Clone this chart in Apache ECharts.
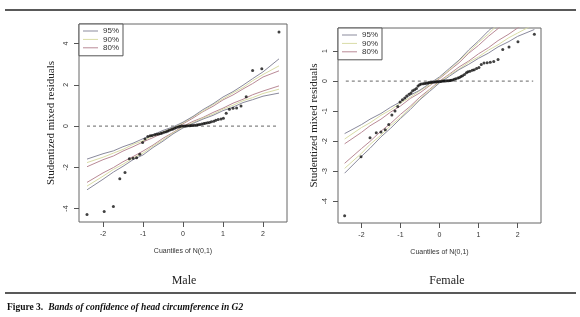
<!DOCTYPE html>
<html>
<head>
<meta charset="utf-8">
<script src="https://cdn.jsdelivr.net/npm/echarts@6/dist/echarts.min.js"></script>
<style>
  html, body { margin: 0; padding: 0; background: #fff; }
  #chart { width: 580px; height: 317px; }
</style>
</head>
<body>
<div id="chart"></div>
<script>
    // quantiles of N(0,1) and studentized residuals
    var maleQ = [-2.40, -1.97, -1.74, -1.58, -1.45, -1.34, -1.25, -1.16, -1.08, -1.01, -0.95, -0.88, -0.82, -0.77, -0.71,
        -0.66, -0.61, -0.56, -0.52, -0.47, -0.42, -0.38, -0.34, -0.29, -0.25, -0.21, -0.17, -0.12, -0.08, -0.04, 0,
        0.04, 0.08, 0.12, 0.17, 0.21, 0.25, 0.29, 0.34, 0.38, 0.42, 0.47, 0.52, 0.56, 0.61, 0.66,
        0.71, 0.77, 0.82, 0.88, 0.95, 1.01, 1.08, 1.16, 1.25, 1.34, 1.45, 1.58, 1.74, 1.97, 2.40];
    var maleRes = [-4.29, -4.14, -3.90, -2.55, -2.25, -1.58, -1.56, -1.54, -1.36, -0.80, -0.62, -0.50, -0.47, -0.45, -0.42,
        -0.40, -0.38, -0.36, -0.33, -0.30, -0.27, -0.24, -0.20, -0.17, -0.14, -0.10, -0.07, -0.04, -0.02, 0.00, 0.01,
        0.01, 0.01, 0.02, 0.02, 0.03, 0.03, 0.04, 0.05, 0.07, 0.08, 0.10, 0.12, 0.14, 0.16, 0.18,
        0.21, 0.24, 0.28, 0.32, 0.35, 0.38, 0.62, 0.82, 0.86, 0.88, 0.97, 1.42, 2.70, 2.78, 4.56];

    var femaleQ = [-2.43, -2.01, -1.78, -1.62, -1.50, -1.39, -1.30, -1.22, -1.14, -1.07, -1.01, -0.95, -0.89, -0.84, -0.78,
        -0.73, -0.69, -0.64, -0.59, -0.55, -0.51, -0.47, -0.42, -0.38, -0.34, -0.30, -0.27, -0.23, -0.19, -0.15, -0.11,
        -0.08, -0.04, 0, 0.04, 0.08, 0.11, 0.15, 0.19, 0.23, 0.27, 0.30, 0.34, 0.38, 0.42, 0.47, 0.51, 0.55, 0.59, 0.64,
        0.69, 0.73, 0.78, 0.84, 0.89, 0.95, 1.01, 1.07, 1.14, 1.22, 1.30, 1.39, 1.50, 1.62, 1.78, 2.01, 2.43];
    var femaleRes = [-4.49, -2.52, -1.89, -1.72, -1.70, -1.62, -1.45, -1.13, -1.00, -0.85, -0.70, -0.62, -0.56, -0.50, -0.44,
        -0.40, -0.32, -0.29, -0.25, -0.16, -0.12, -0.10, -0.09, -0.08, -0.07, -0.06, -0.05, -0.05, -0.04, -0.03, -0.03,
        -0.02, -0.02, -0.01, -0.01, 0.00, 0.00, 0.00, 0.01, 0.01, 0.02, 0.03, 0.04, 0.06, 0.08, 0.10, 0.12, 0.15, 0.18, 0.22,
        0.28, 0.31, 0.33, 0.36, 0.38, 0.42, 0.45, 0.55, 0.60, 0.61, 0.63, 0.65, 0.72, 1.05, 1.14, 1.31, 1.56];

    // confidence bands (upper / lower) at a set of quantiles
    var maleBandQ = [-2.4, -2.0, -1.74, -1.5, -1.25, -1.0, -0.75, -0.5, -0.25, 0, 0.25, 0.5, 0.75, 1.0, 1.25, 1.5, 1.74, 2.0, 2.4];
    var maleUp95 = [-1.60, -1.34, -1.20, -1.00, -0.83, -0.61, -0.42, -0.21, -0.04, 0.19, 0.47, 0.80, 1.08, 1.41, 1.67, 1.98, 2.30, 2.63, 3.26];
    var maleLo95 = [-3.09, -2.58, -2.23, -1.95, -1.63, -1.40, -1.04, -0.73, -0.38, -0.09, 0.13, 0.34, 0.52, 0.75, 0.92, 1.14, 1.28, 1.45, 1.60];
    var maleUp90 = [-1.77, -1.51, -1.31, -1.13, -0.89, -0.71, -0.47, -0.29, -0.07, 0.15, 0.45, 0.73, 1.04, 1.32, 1.61, 1.87, 2.20, 2.50, 2.92];
    var maleLo90 = [-2.91, -2.43, -2.10, -1.85, -1.55, -1.31, -0.97, -0.67, -0.33, -0.05, 0.17, 0.39, 0.58, 0.82, 1.01, 1.23, 1.38, 1.58, 1.79];
    var maleUp80 = [-1.97, -1.63, -1.45, -1.21, -1.00, -0.77, -0.56, -0.33, -0.13, 0.11, 0.39, 0.70, 0.96, 1.27, 1.51, 1.80, 2.06, 2.38, 2.68];
    var maleLo80 = [-2.73, -2.27, -2.01, -1.73, -1.48, -1.21, -0.92, -0.59, -0.31, -0.01, 0.23, 0.42, 0.66, 0.87, 1.11, 1.30, 1.52, 1.70, 1.95];

    var femaleBandQ = [-2.43, -2.0, -1.78, -1.5, -1.25, -1.0, -0.75, -0.5, -0.25, 0, 0.25, 0.5, 0.75, 1.0, 1.25, 1.5, 1.78, 2.0, 2.43];
    var femaleUp95 = [-1.75, -1.45, -1.27, -1.08, -0.87, -0.69, -0.47, -0.30, -0.08, 0.14, 0.42, 0.70, 1.04, 1.34, 1.67, 1.96, 2.34, 2.61, 3.20];
    var femaleLo95 = [-3.07, -2.51, -2.24, -1.86, -1.57, -1.25, -0.95, -0.62, -0.34, -0.06, 0.16, 0.38, 0.56, 0.76, 0.93, 1.14, 1.32, 1.49, 1.72];
    var femaleUp90 = [-1.93, -1.55, -1.39, -1.14, -0.96, -0.73, -0.54, -0.32, -0.13, 0.11, 0.37, 0.68, 0.97, 1.29, 1.57, 1.89, 2.21, 2.50, 3.02];
    var femaleLo90 = [-2.91, -2.41, -2.11, -1.80, -1.48, -1.21, -0.88, -0.60, -0.29, -0.03, 0.21, 0.40, 0.63, 0.81, 1.03, 1.21, 1.45, 1.60, 1.90];
    var femaleUp80 = [-2.09, -1.71, -1.49, -1.27, -1.03, -0.83, -0.58, -0.39, -0.15, 0.08, 0.35, 0.61, 0.93, 1.19, 1.49, 1.75, 2.09, 2.33, 2.83];
    var femaleLo80 = [-2.74, -2.25, -2.01, -1.67, -1.41, -1.11, -0.84, -0.53, -0.27, 0.00, 0.23, 0.47, 0.67, 0.91, 1.11, 1.35, 1.57, 1.77, 2.09];

    var zeroQ = [-2.4, 2.4];
    var bandNames = ['95%', '90%', '80%'];
    var bandColors = ['#8a8a9c', '#d9dca6', '#b98a96'];
    var xTicks = [-2, -1, 0, 1, 2];
    var maleYTicks = [-4, -2, 0, 2, 4];
    var femaleYTicks = [-4, -3, -2, -1, 0, 1];

    function pairs(xs, ys) {
        var out = [];
        for (var i = 0; i < xs.length; i++) {
            out.push([xs[i], ys[i]]);
        }
        return out;
    }

    function bandSeries(idx, q, bands) {
        var list = [];
        for (var b = 0; b < 3; b++) {
            for (var k = 0; k < 2; k++) {
                list.push({
                    name: bandNames[b],
                    type: 'line',
                    xAxisIndex: idx, yAxisIndex: idx,
                    data: pairs(q, bands[b][k]),
                    symbol: 'none',
                    color: bandColors[b],
                    lineStyle: { color: bandColors[b], width: 1 },
                    silent: true,
                    z: 3 - b
                });
            }
        }
        return list;
    }

    function xAxisOf(idx) {
        return {
            type: 'value', gridIndex: idx, min: -2.6, max: 2.6,
            name: 'Cuantiles of N(0,1)', nameLocation: 'middle', nameGap: 26,
            nameTextStyle: { fontFamily: 'Liberation Sans', fontSize: 7, color: '#333' },
            axisLine: { show: false, onZero: false },
            axisTick: { show: true, length: 5, lineStyle: { color: '#555' }, customValues: xTicks },
            axisLabel: { fontFamily: 'Liberation Sans', fontSize: 7, color: '#333', margin: 9, customValues: xTicks },
            splitLine: { show: false }
        };
    }

    function yAxisOf(idx, min, max, ticks, gap) {
        return {
            type: 'value', gridIndex: idx, min: min, max: max,
            name: 'Studentized mixed residuals', nameLocation: 'middle', nameGap: gap, nameRotate: 90,
            nameTextStyle: { fontFamily: 'Liberation Serif', fontSize: 11, color: '#222' },
            axisLine: { show: false, onZero: false },
            axisTick: { show: true, length: 5, lineStyle: { color: '#555' }, customValues: ticks },
            axisLabel: { fontFamily: 'Liberation Sans', fontSize: 7, color: '#333', margin: 9, rotate: 90, customValues: ticks },
            splitLine: { show: false }
        };
    }

    function legendOf(left, top) {
        return {
            data: bandNames, left: left, top: top, orient: 'vertical',
            icon: 'rect', itemWidth: 15, itemHeight: 1, itemGap: 0.4,
            padding: [3, 4, 4, 4],
            backgroundColor: '#fff', borderColor: '#555', borderWidth: 1, borderRadius: 0,
            textStyle: { fontFamily: 'Liberation Sans', fontSize: 8, lineHeight: 8, color: '#333' },
            selectedMode: false
        };
    }

    var series = [];
    series = series.concat(bandSeries(0, maleBandQ, [[maleUp95, maleLo95], [maleUp90, maleLo90], [maleUp80, maleLo80]]));
    series = series.concat(bandSeries(1, femaleBandQ, [[femaleUp95, femaleLo95], [femaleUp90, femaleLo90], [femaleUp80, femaleLo80]]));
    [0, 1].forEach(function (idx) {
        series.push({
            type: 'line', xAxisIndex: idx, yAxisIndex: idx,
            data: pairs(zeroQ, [0, 0]), symbol: 'none', silent: true,
            lineStyle: { color: '#666', width: 1, type: [3, 3] }, z: 1
        });
    });
    series.push({
        type: 'scatter', xAxisIndex: 0, yAxisIndex: 0, data: pairs(maleQ, maleRes),
        symbolSize: 3, itemStyle: { color: '#111' }, silent: true, z: 5
    });
    series.push({
        type: 'scatter', xAxisIndex: 1, yAxisIndex: 1, data: pairs(femaleQ, femaleRes),
        symbolSize: 3, itemStyle: { color: '#111' }, silent: true, z: 5
    });

    var myChart = echarts.init(document.getElementById('chart'), null, { renderer: 'canvas' });

    var option = {
        animation: false,
        backgroundColor: '#fff',
        grid: [
            { left: 79, top: 24, width: 208, height: 198, show: true, borderColor: '#666', borderWidth: 1, backgroundColor: 'transparent' },
            { left: 338, top: 28, width: 203, height: 195, show: true, borderColor: '#666', borderWidth: 1, backgroundColor: 'transparent' }
        ],
        xAxis: [xAxisOf(0), xAxisOf(1)],
        yAxis: [yAxisOf(0, -4.65, 4.95, maleYTicks, 22), yAxisOf(1, -4.73, 1.77, femaleYTicks, 18)],
        legend: [legendOf(79, 24), legendOf(338, 28)],
        title: [
            { text: 'Male', left: 179, top: 270, textAlign: 'center',
              textStyle: { fontFamily: 'Liberation Serif', fontSize: 12, fontWeight: 'normal', color: '#222' } },
            { text: 'Female', left: 442, top: 270, textAlign: 'center',
              textStyle: { fontFamily: 'Liberation Serif', fontSize: 12, fontWeight: 'normal', color: '#222' } },
            { text: '{b|Figure 3.} {i|Bands of confidence of head circumference in G2}', left: 2, top: 294,
              textStyle: {
                  rich: {
                      b: { fontFamily: 'Liberation Serif', fontSize: 9.5, fontWeight: 'bold', color: '#111' },
                      i: { fontFamily: 'Liberation Serif', fontSize: 9.5, fontStyle: 'italic', fontWeight: 'bold', color: '#111' }
                  }
              } }
        ],
        graphic: [
            { type: 'line', shape: { x1: 5, y1: 10, x2: 576, y2: 10 }, style: { stroke: '#222', lineWidth: 1.5 } },
            { type: 'line', shape: { x1: 5, y1: 293, x2: 576, y2: 293 }, style: { stroke: '#222', lineWidth: 1.5 } }
        ],
        series: series
    };

    myChart.setOption(option);
</script>
</body>
</html>
